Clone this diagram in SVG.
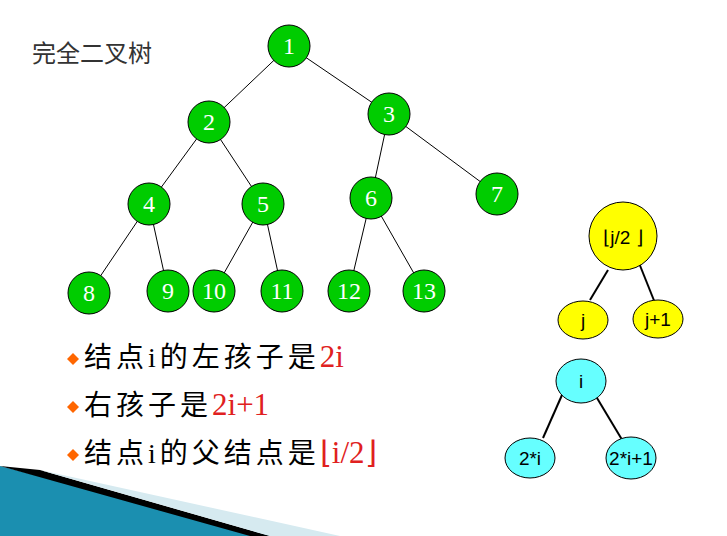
<svg xmlns="http://www.w3.org/2000/svg" width="727" height="536" viewBox="0 0 727 536">
<style>
.n{fill:#00cc00;stroke:#000;stroke-width:1}
.t{font-family:"Liberation Serif",serif;font-size:24px;fill:#fff;text-anchor:middle}
.s{font-family:"Liberation Sans",sans-serif;font-size:19px;fill:#000;text-anchor:middle}
.c{font-family:"Liberation Serif","Noto Sans CJK SC",serif;font-size:28px;fill:#000;letter-spacing:4px}
.r{fill:#e02020;letter-spacing:0;font-size:31px}
.e{stroke:#000;stroke-width:1}
.e2{stroke:#000;stroke-width:2}
</style>
<rect width="727" height="536" fill="#fff"/>
<polygon points="0,466 270,536 0,536" fill="#1b8fb0"/>
<polygon points="0,466 40,470 270,536 250,536" fill="#000"/>
<polygon points="40,470 340,536 270,536" fill="#d6eaf0"/>
<text x="32" y="62" font-family="'Noto Sans CJK SC',sans-serif" font-size="24" fill="#333">完全二叉树</text>
<g id="connectors">
<line class="e" x1="289" y1="46" x2="209" y2="122"/><line class="e" x1="289" y1="46" x2="389" y2="114"/>
<line class="e" x1="209" y1="122" x2="149" y2="204"/><line class="e" x1="209" y1="122" x2="263" y2="204"/>
<line class="e" x1="389" y1="114" x2="371" y2="198"/><line class="e" x1="389" y1="114" x2="497" y2="194"/>
<line class="e" x1="149" y1="204" x2="89" y2="293"/><line class="e" x1="149" y1="204" x2="168" y2="291"/>
<line class="e" x1="263" y1="204" x2="214" y2="291"/><line class="e" x1="263" y1="204" x2="282" y2="291"/>
<line class="e" x1="371" y1="198" x2="349" y2="291"/><line class="e" x1="371" y1="198" x2="424" y2="291"/>
<line class="e2" x1="608" y1="270" x2="590" y2="300"/><line class="e2" x1="639" y1="263" x2="657" y2="308"/>
<line class="e2" x1="562" y1="395" x2="543" y2="438"/><line class="e2" x1="594" y1="393" x2="624" y2="443"/>
</g>
<g id="n1"><circle class="n" cx="289" cy="46" r="21"/><text class="t" x="289" y="54">1</text></g>
<g id="n2"><circle class="n" cx="209" cy="122" r="21"/><text class="t" x="209" y="130">2</text></g>
<g id="n3"><circle class="n" cx="389" cy="114" r="21"/><text class="t" x="389" y="122">3</text></g>
<g id="n4"><circle class="n" cx="149" cy="204" r="21"/><text class="t" x="149" y="212">4</text></g>
<g id="n5"><circle class="n" cx="263" cy="204" r="21"/><text class="t" x="263" y="212">5</text></g>
<g id="n6"><circle class="n" cx="371" cy="198" r="21"/><text class="t" x="371" y="206">6</text></g>
<g id="n7"><circle class="n" cx="497" cy="194" r="21"/><text class="t" x="497" y="202">7</text></g>
<g id="n8"><circle class="n" cx="89" cy="293" r="21"/><text class="t" x="89" y="301">8</text></g>
<g id="n9"><circle class="n" cx="168" cy="291" r="21"/><text class="t" x="168" y="299">9</text></g>
<g id="n10"><circle class="n" cx="214" cy="291" r="21"/><text class="t" x="214" y="299">10</text></g>
<g id="n11"><circle class="n" cx="282" cy="291" r="21"/><text class="t" x="282" y="299">11</text></g>
<g id="n12"><circle class="n" cx="349" cy="291" r="21"/><text class="t" x="349" y="299">12</text></g>
<g id="n13"><circle class="n" cx="424" cy="291" r="21"/><text class="t" x="424" y="299">13</text></g>
<g id="yp"><circle cx="623" cy="236" r="34" fill="#ffff00" stroke="#000"/><text class="s" x="623" y="244" font-size="22">⌊j/2 ⌋</text></g>
<g id="yj"><ellipse cx="583" cy="320" rx="25" ry="19" fill="#ffff00" stroke="#000"/><text class="s" x="583" y="327">j</text></g>
<g id="yj1"><ellipse cx="658" cy="319" rx="25" ry="19" fill="#ffff00" stroke="#000"/><text class="s" x="658" y="326">j+1</text></g>
<g id="ci"><ellipse cx="581" cy="381" rx="25" ry="22" fill="#66ffff" stroke="#000"/><text class="s" x="581" y="388">i</text></g>
<g id="c2i"><ellipse cx="530" cy="458" rx="25" ry="20" fill="#66ffff" stroke="#000"/><text class="s" x="530" y="465">2*i</text></g>
<g id="c2i1"><ellipse cx="631" cy="458" rx="25" ry="21" fill="#66ffff" stroke="#000"/><text class="s" x="631" y="465">2*i+1</text></g>
<g id="bullets">
<polygon points="67,359 73,353 79,359 73,365" fill="#ff6600"/>
<polygon points="67,407 73,401 79,407 73,413" fill="#ff6600"/>
<polygon points="67,455 73,449 79,455 73,461" fill="#ff6600"/>
<text class="c" x="84" y="367">结点i的左孩子是<tspan class="r">2i</tspan></text>
<text class="c" x="84" y="415">右孩子是<tspan class="r">2i+1</tspan></text>
<text class="c" x="84" y="463">结点i的父结点是<tspan class="r">⌊i/2⌋</tspan></text>
</g>
</svg>
